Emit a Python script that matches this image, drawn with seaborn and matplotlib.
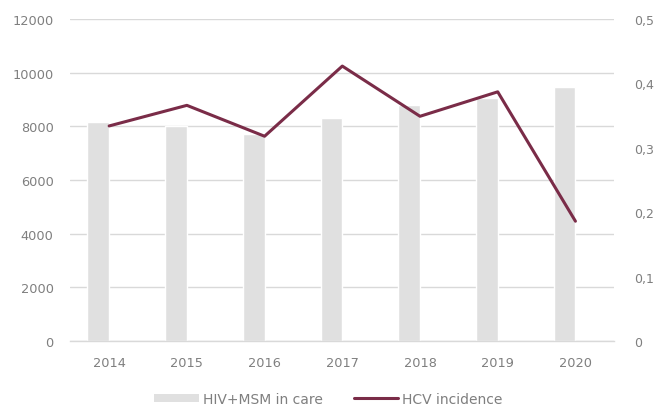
import numpy as np
import pandas as pd
import matplotlib
matplotlib.use("Agg")
import matplotlib.pyplot as plt
import seaborn as sns
from matplotlib.lines import Line2D
from matplotlib.patches import Patch

years = ["2014", "2015", "2016", "2017", "2018", "2019", "2020"]
hiv_msm_in_care = [8150, 8000, 7700, 8300, 8800, 9050, 9450]
hcv_incidence = [0.334, 0.366, 0.318, 0.427, 0.349, 0.387, 0.186]
left_ticks = [0, 2000, 4000, 6000, 8000, 10000, 12000]
right_ticks = [0, 0.1, 0.2, 0.3, 0.4, 0.5]
right_tick_labels = ["0", "0,1", "0,2", "0,3", "0,4", "0,5"]

sns.set_theme(style="white")
plt.rcParams['font.family'] = ['DejaVu Sans']

bar_color = "#e0e0e0"
line_color = "#7a2c48"
text_color = "#7f7f7f"
grid_color = "#d9d9d9"

fig = plt.figure(figsize=(6.57, 4.10), dpi=100)
ax = fig.add_axes([0.107, 0.166, 0.828, 0.785])

df = pd.DataFrame({
    "year": years * 2,
    "value": hiv_msm_in_care + [0] * len(years),
    "series": ["HIV+MSM in care"] * len(years) + ["_empty"] * len(years),
})
sns.barplot(data=df, x="year", y="value", hue="series",
            palette=[bar_color, (1, 1, 1, 0)], width=0.56, gap=0,
            saturation=1, legend=False, ax=ax, zorder=2)

ax.set_ylim(0, 12000)
ax.set_xlim(-0.5, 6.5)
ax.set_yticks(left_ticks)
ax.set_yticklabels([str(t) for t in left_ticks])
ax.yaxis.grid(True, color=grid_color, linewidth=1)
ax.set_axisbelow(True)
ax.set_xlabel("")
ax.set_ylabel("")
for s in ["top", "left", "right"]:
    ax.spines[s].set_visible(False)
ax.spines["bottom"].set_color(grid_color)
ax.spines["bottom"].set_linewidth(1)
ax.tick_params(axis="both", colors=text_color, labelsize=9.3, length=0)
ax.tick_params(axis="y", pad=12)
ax.tick_params(axis="x", pad=11)

ax2 = ax.twinx()
sns.lineplot(x=np.arange(len(years)), y=hcv_incidence, color=line_color,
             linewidth=2.2, ax=ax2, zorder=3)
ax2.set_ylim(0, 0.5)
ax2.set_yticks(right_ticks)
ax2.set_yticklabels(right_tick_labels)
ax2.tick_params(axis="y", colors=text_color, labelsize=9, length=0, pad=14)
ax2.grid(False)
for s in ["top", "left", "right", "bottom"]:
    ax2.spines[s].set_visible(False)

handles = [Patch(facecolor=bar_color, edgecolor="none", label="HIV+MSM in care"),
           Line2D([0], [0], color=line_color, linewidth=2.2, label="HCV incidence")]
fig.legend(handles=handles, loc="center", bbox_to_anchor=(0.5, 0.025), ncol=2,
           frameon=False, fontsize=10, labelcolor=text_color,
           handlelength=3.2, handleheight=0.45, columnspacing=2.2, handletextpad=0.3)

fig.savefig("out.png", dpi=100)
